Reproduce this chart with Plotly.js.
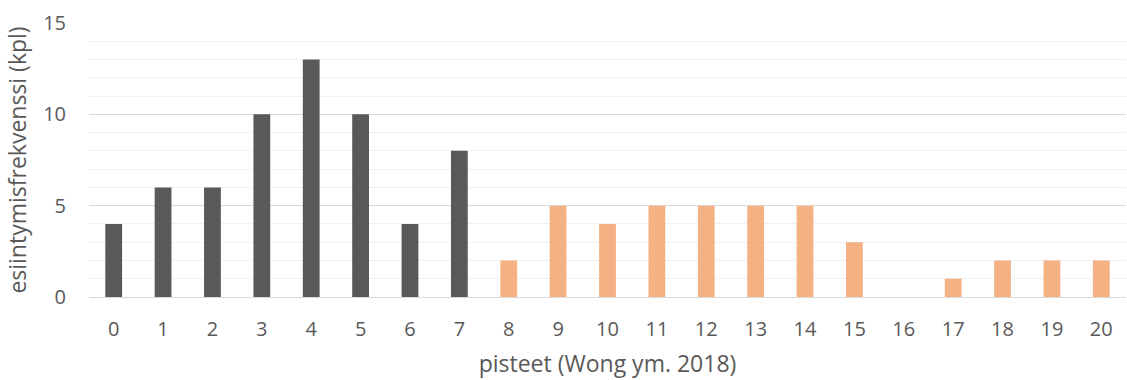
<!DOCTYPE html>
<html><head><meta charset="utf-8">
<script src="https://cdn.plot.ly/plotly-3.0.1.min.js"></script>
<style>html,body{margin:0;padding:0;background:#fff}#chart{width:1127px;height:380px}</style>
</head><body><div id="chart"></div>
<script>
const categoriesA = [0,1,2,3,4,5,6,7];
const valuesA = [4,6,6,10,13,10,4,8];
const categoriesB = [8,9,10,11,12,13,14,15,16,17,18,19,20];
const valuesB = [2,5,4,5,5,5,5,3,0,1,2,2,2];
const tickLabels = ['0','1','2','3','4','5','6','7','8','9','10','11','12','13','14','15','16','17','18','19','20'];
const xTitle = 'pisteet (Wong ym. 2018)';
const yTitle = 'esiintymisfrekvenssi (kpl)';

const font = "Open Sans, Liberation Sans, sans-serif";
const traces = [
  {type:'bar', x:categoriesA, y:valuesA, marker:{color:'#595959'}, width:0.34, hoverinfo:'x+y'},
  {type:'bar', x:categoriesB, y:valuesB, marker:{color:'#F4B183'}, width:0.34, hoverinfo:'x+y'}
];
const layout = {
  width:1127, height:380,
  margin:{l:89, r:1, t:23, b:83},
  paper_bgcolor:'#fff', plot_bgcolor:'#fff',
  showlegend:false,
  barmode:'overlay',
  font:{family:font, color:'#595959', size:20},
  xaxis:{
    type:'linear', range:[-0.5,20.5],
    tickvals:tickLabels.map(Number), ticktext:tickLabels,
    showgrid:false, zeroline:false, showline:false, ticks:'',
    tickfont:{size:20, color:'#595959'},
    ticklabelstandoff:18,
    title:{text:xTitle, font:{size:23, color:'#595959'}, standoff:14}
  },
  yaxis:{
    range:[0,15], dtick:5, tick0:0,
    showgrid:true, gridcolor:'#d9d9d9', gridwidth:1,
    minor:{dtick:1, showgrid:true, gridcolor:'#f0f0f0', gridwidth:1},
    zeroline:true, zerolinecolor:'#d9d9d9', zerolinewidth:1,
    showline:false, ticks:'',
    tickfont:{size:20, color:'#595959'},
    ticklabelstandoff:22,
    title:{text:yTitle, font:{size:23, color:'#595959'}, standoff:10}
  }
};
Plotly.newPlot('chart', traces, layout, {displayModeBar:false, staticPlot:true});
</script></body></html>
